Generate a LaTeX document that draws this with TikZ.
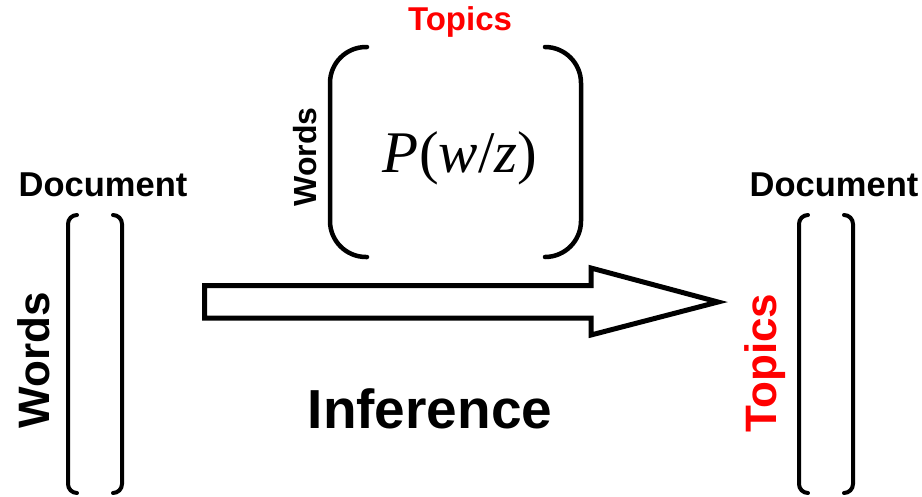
\documentclass[tikz,border=0pt]{standalone}
\usepackage{fontspec}
\setmainfont{Liberation Sans}
\newfontfamily\seriffont{Liberation Serif}
\begin{document}
\begin{tikzpicture}[x=1pt,y=-1pt,
  lbl/.style={inner sep=0pt, font=\bfseries\fontsize{#1}{#1}\selectfont},
  bigbrk/.style={line width=4.5pt, line cap=round, rounded corners=36pt},
  smallbrk/.style={line width=4pt, line cap=round, rounded corners=9pt}]
\useasboundingbox (0,0) rectangle (922,496);
% top matrix
\node[lbl=33, text=red] (ttop) at (460,22) {Topics};
\node[lbl=32, rotate=90] (wtop) at (305,157) {Words};
\node[inner sep=0pt, font=\seriffont\fontsize{59}{59}\selectfont] (pwz) at (460,158) {\itshape P\/\upshape(\itshape w\upshape/\itshape z\/\upshape)};
\draw[bigbrk] (367,47) -- (330,47) -- (330,257) -- (367,257);
\draw[bigbrk] (545,47) -- (581,47) -- (581,257) -- (545,257);
% left matrix
\node[lbl=34.5] (dleft) at (103,185) {Document};
\node[lbl=44, rotate=90] (wleft) at (34,360) {Words};
\draw[smallbrk] (77,215) -- (68,215) -- (68,493) -- (77,493);
\draw[smallbrk] (113,215) -- (122,215) -- (122,493) -- (113,493);
% right matrix
\node[lbl=34.5] (dright) at (834,185) {Document};
\node[lbl=44, rotate=90, text=red] (tright) at (765,363) {Topics};
\draw[smallbrk] (808,215) -- (799,215) -- (799,493) -- (808,493);
\draw[smallbrk] (844,215) -- (853,215) -- (853,493) -- (844,493);
% arrow
\draw[line width=5pt, miter limit=20] (204.5,285.5) -- (591,285.5) -- (591,268) -- (718,302) -- (591,335) -- (591,318) -- (204.5,318) -- cycle;
\node[lbl=55] (inf) at (430,409) {Inference};
\end{tikzpicture}
\end{document}
